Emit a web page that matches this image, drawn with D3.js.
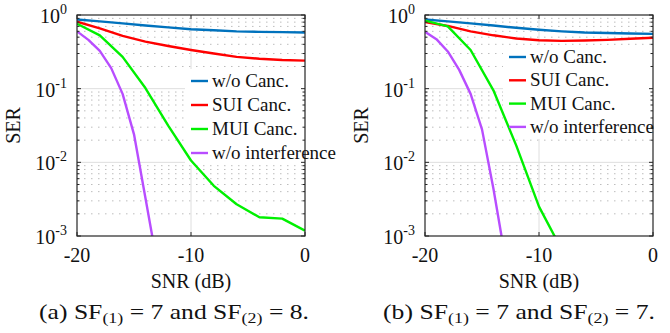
<!DOCTYPE html>
<html>
<head>
<meta charset="utf-8">
<script src="https://cdn.jsdelivr.net/npm/d3@7"></script>
<style>
    body { margin: 0; background: #fff; }
    #chart { width: 670px; height: 333px; }
</style>
</head>
<body>
<div id="chart"></div>
<script>

// SNR points (dB)
const snrSteps = [-20, -18, -16, -14, -12, -10, -8, -6, -4, -2, 0];
const snrFine = [-20, -19, -18, -17, -16, -15, -14, -13];

// (a) SF1 = 7, SF2 = 8
const serNoCancA = [0.87, 0.82, 0.77, 0.72, 0.68, 0.64, 0.62, 0.60, 0.59, 0.585, 0.58];
const serSuiA = [0.81, 0.66, 0.52, 0.435, 0.38, 0.335, 0.30, 0.27, 0.255, 0.245, 0.24];
const serMuiA = [0.76, 0.53, 0.27, 0.102, 0.0315, 0.0106, 0.0048, 0.0027, 0.00180, 0.00172, 0.00118];
const serNoIntA = [0.60, 0.46, 0.325, 0.19, 0.085, 0.024, 0.0033, 0.00045];

// (b) SF1 = 7, SF2 = 7
const serNoCancB = [0.87, 0.82, 0.77, 0.72, 0.67, 0.63, 0.60, 0.58, 0.57, 0.56, 0.555];
const serSuiB = [0.80, 0.71, 0.60, 0.53, 0.48, 0.455, 0.445, 0.45, 0.46, 0.475, 0.49];
const serMuiB = [0.84, 0.70, 0.335, 0.095, 0.017, 0.0025, 0.00065];
const snrMuiB = [-20, -18, -16, -14, -12, -10, -8];
const serNoIntB = [0.59, 0.47, 0.32, 0.18, 0.085, 0.028, 0.0044, 0.00055];

// Legend labels and colours
const seriesNames = ["w/o Canc.", "SUI Canc.", "MUI Canc.", "w/o interference"];
const seriesColors = ["#0072bd", "#ff0000", "#00f000", "#b84dff"];

// Axis ticks
const xTicks = [-20, -10, 0];
const yTicks = [1, 0.1, 0.01, 0.001];
const yExponents = ["0", "-1", "-2", "-3"];

const serifFont = "Liberation Serif";

const svg = d3.select("#chart").append("svg")
    .attr("width", 670)
    .attr("height", 333);

// helper: text element with the serif font
function addText(parent, size) {
    return parent.append("text")
        .attr("font-family", serifFont)
        .attr("font-size", size)
        .attr("fill", "#111");
}

// One panel of the figure
function drawPanel(opts) {
    const left = opts.left, top = 15, width = 228, height = 221;

    const g = svg.append("g").attr("transform", `translate(${left},${top})`);

    const x = d3.scaleLinear().domain([-20, 0]).range([0, width]);
    const y = d3.scaleLog().domain([1e-3, 1]).range([height, 0]);

    // clip path for the curves
    const clipId = "clip-" + opts.id;
    g.append("clipPath").attr("id", clipId)
        .append("rect").attr("width", width).attr("height", height);

    // minor grid (dotted) for 2..9 in each decade
    const minorVals = [];
    for (let e = -3; e < 0; e++) {
        for (let m = 2; m <= 9; m++) minorVals.push(m * Math.pow(10, e));
    }
    g.selectAll(".minor-grid").data(minorVals).enter().append("line")
        .attr("class", "minor-grid")
        .attr("x1", 0).attr("x2", width)
        .attr("y1", d => y(d)).attr("y2", d => y(d))
        .attr("stroke", "#bdbdbd")
        .attr("stroke-width", 1)
        .attr("stroke-dasharray", "1.5,5.5");

    // major grid
    g.selectAll(".major-y").data(yTicks.slice(1, 3)).enter().append("line")
        .attr("x1", 0).attr("x2", width)
        .attr("y1", d => y(d)).attr("y2", d => y(d))
        .attr("stroke", "#dedede").attr("stroke-width", 1);
    g.append("line")
        .attr("x1", x(-10)).attr("x2", x(-10))
        .attr("y1", 0).attr("y2", height)
        .attr("stroke", "#dedede").attr("stroke-width", 1);

    // legend background hides the grid
    g.append("rect")
        .attr("x", opts.legendX - 6)
        .attr("y", opts.legendY - 12)
        .attr("width", width - (opts.legendX - 6))
        .attr("height", 3 * opts.legendStep + 24)
        .attr("fill", "#fff");

    // curves
    const line = d3.line()
        .x(d => x(d[0]))
        .y(d => y(Math.max(d[1], 1e-4)));

    const curves = g.append("g").attr("clip-path", `url(#${clipId})`);
    opts.series.forEach((s, i) => {
        curves.append("path")
            .datum(d3.zip(s.snr, s.ser))
            .attr("fill", "none")
            .attr("stroke", seriesColors[i])
            .attr("stroke-width", 2.4)
            .attr("stroke-linejoin", "round")
            .attr("d", line);
    });

    // box
    g.append("rect")
        .attr("width", width).attr("height", height)
        .attr("fill", "none").attr("stroke", "#262626").attr("stroke-width", 1.2);

    // y ticks (inside, both sides)
    const tickLen = 4;
    minorVals.forEach(v => {
        [[0, 2.5], [width, width - 2.5]].forEach(p => {
            g.append("line").attr("x1", p[0]).attr("x2", p[1])
                .attr("y1", y(v)).attr("y2", y(v)).attr("stroke", "#262626");
        });
    });
    yTicks.forEach(v => {
        [[0, tickLen], [width, width - tickLen]].forEach(p => {
            g.append("line").attr("x1", p[0]).attr("x2", p[1])
                .attr("y1", y(v)).attr("y2", y(v)).attr("stroke", "#262626");
        });
    });
    xTicks.forEach(v => {
        [[height, height - tickLen], [0, tickLen]].forEach(p => {
            g.append("line").attr("x1", x(v)).attr("x2", x(v))
                .attr("y1", p[0]).attr("y2", p[1]).attr("stroke", "#262626");
        });
    });

    // y tick labels 10^n
    yTicks.forEach((v, i) => {
        const t = addText(g, 20)
            .attr("x", -10)
            .attr("y", y(v) + 8)
            .attr("text-anchor", "end");
        t.append("tspan").text("10");
        t.append("tspan").attr("dy", -9).attr("font-size", 14).text(yExponents[i]);
    });

    // x tick labels
    xTicks.forEach(v => {
        addText(g, 20)
            .attr("x", x(v))
            .attr("y", height + 26)
            .attr("text-anchor", "middle")
            .text(v);
    });

    // axis titles
    addText(g, 20)
        .attr("x", width / 2).attr("y", height + 52)
        .attr("text-anchor", "middle")
        .text("SNR (dB)");
    addText(g, 20)
        .attr("transform", `translate(${opts.serX},${height / 2}) rotate(-90)`)
        .attr("text-anchor", "middle")
        .text("SER");

    // legend
    seriesNames.forEach((name, i) => {
        const ly = opts.legendY + i * opts.legendStep;
        g.append("line")
            .attr("x1", opts.legendX).attr("x2", opts.legendX + 17)
            .attr("y1", ly).attr("y2", ly)
            .attr("stroke", seriesColors[i]).attr("stroke-width", 2.4);
        addText(g, 19)
            .attr("x", opts.legendX + 21).attr("y", ly + 6)
            .text(name);
    });

    // caption, stretched to the width it has in the figure
    const capG = svg.append("g");
    const cap = addText(capG, 20).attr("text-anchor", "middle");
    cap.append("tspan").text(opts.tag + " SF");
    cap.append("tspan").attr("dy", 4).attr("font-size", 14).text("(1)");
    cap.append("tspan").attr("dy", -4).text(" = 7 and SF");
    cap.append("tspan").attr("dy", 4).attr("font-size", 14).text("(2)");
    cap.append("tspan").attr("dy", -4).text(" = " + opts.sf2 + ".");
    const capW = cap.node().getBBox().width;
    capG.attr("transform",
        `translate(${left + width / 2 + opts.capShift},319) scale(${opts.capWidth / capW},1)`);
}

drawPanel({
    id: "a", left: 77, tag: "(a)", sf2: 8, serX: -57, capShift: -17, capWidth: 270,
    legendX: 114, legendY: 66, legendStep: 24,
    series: [
        { snr: snrSteps, ser: serNoCancA },
        { snr: snrSteps, ser: serSuiA },
        { snr: snrSteps, ser: serMuiA },
        { snr: snrFine, ser: serNoIntA }
    ]
});

drawPanel({
    id: "b", left: 425, tag: "(b)", sf2: 7, serX: -57, capShift: -20, capWidth: 272,
    legendX: 84, legendY: 42, legendStep: 23.3,
    series: [
        { snr: snrSteps, ser: serNoCancB },
        { snr: snrSteps, ser: serSuiB },
        { snr: snrMuiB, ser: serMuiB },
        { snr: snrFine, ser: serNoIntB }
    ]
});

</script>
</body>
</html>
